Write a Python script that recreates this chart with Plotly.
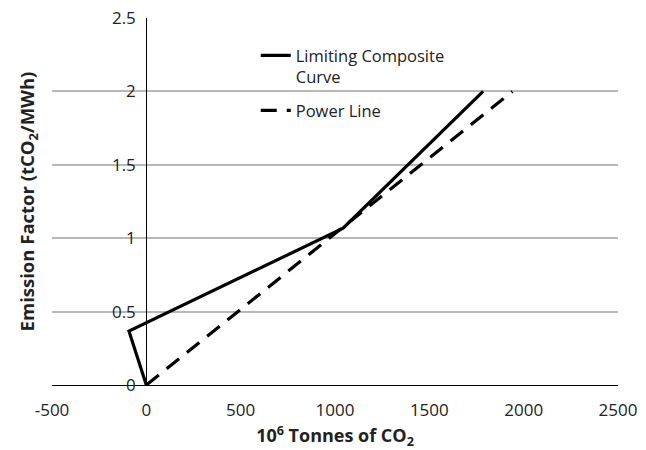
import plotly.graph_objects as go

# Data
lcc_x = [0, -92, 1043, 1785]
lcc_y = [0, 0.367, 1.068, 2.0]
power_x = [0, 1940]
power_y = [0, 2.0]

x_ticks = [-500, 0, 500, 1000, 1500, 2000, 2500]
x_tick_text = ["-500", "0", "500", "1000", "1500", "2000", "2500"]
y_ticks = [0, 0.5, 1, 1.5, 2, 2.5]
y_tick_text = ["0", "0.5", "1", "1.5", "2", "2.5"]

FONT = "Open Sans"
TXT = "#222222"

fig = go.Figure()
fig.add_trace(go.Scatter(
    x=lcc_x, y=lcc_y, mode="lines",
    name="Limiting Composite<br>Curve", legendgroup="a",
    line=dict(color="black", width=3.2),
))
fig.add_trace(go.Scatter(
    x=power_x, y=power_y, mode="lines",
    name="Power Line", legendgroup="b",
    line=dict(color="black", width=3.2, dash="16px,10px"),
))
fig.add_trace(go.Scatter(x=[None], y=[None], yaxis="y2", showlegend=False, hoverinfo="skip"))

W, H = 646, 450
L, R, T, B = 52, 28, 17.5, 65

fig.update_layout(
    width=W, height=H,
    margin=dict(l=L, r=R, t=T, b=B, autoexpand=False),
    paper_bgcolor="white",
    plot_bgcolor="white",
    font=dict(family=FONT, size=16, color=TXT),
    showlegend=True,
    legend=dict(
        x=0.36, y=0.945, xanchor="left", yanchor="top",
        bgcolor="rgba(0,0,0,0)",
        font=dict(family=FONT, size=16.5, color=TXT),
        valign="top",
        traceorder="grouped",
        tracegroupgap=9,
    ),
    xaxis=dict(
        range=[-500, 2500],
        tickmode="array", tickvals=x_ticks, ticktext=x_tick_text,
        showgrid=False, zeroline=False,
        showline=True, linecolor="black", linewidth=1.2,
        ticks="", ticklabelstandoff=9,
        tickfont=dict(family=FONT, size=17, color=TXT),
        title=dict(text="<b>10<sup>6</sup> Tonnes of CO<sub>2</sub></b>",
                   font=dict(family=FONT, size=18, color=TXT),
                   standoff=18),
        automargin=False,
        fixedrange=True,
    ),
    yaxis=dict(
        range=[0, 2.5],
        tickmode="array", tickvals=y_ticks, ticktext=y_tick_text,
        anchor="free", position=1/6,
        showgrid=True, gridcolor="#b8b8b8", gridwidth=1.5,
        zeroline=False,
        showline=True, linecolor="black", linewidth=1.2,
        ticks="", ticklabelstandoff=7,
        tickfont=dict(family=FONT, size=17, color=TXT),
        automargin=False,
        fixedrange=True,
    ),
    yaxis2=dict(
        overlaying="y", anchor="free", position=0, side="left",
        range=[0, 2.5], showgrid=False, zeroline=False, showline=False,
        showticklabels=False, ticks="",
        title=dict(text="<b>Emission Factor (tCO<sub>2</sub>/MWh)</b>",
                   font=dict(family=FONT, size=18.5, color=TXT),
                   standoff=11),
        automargin=False,
        fixedrange=True,
    ),
)

fig.write_html("out.html")
